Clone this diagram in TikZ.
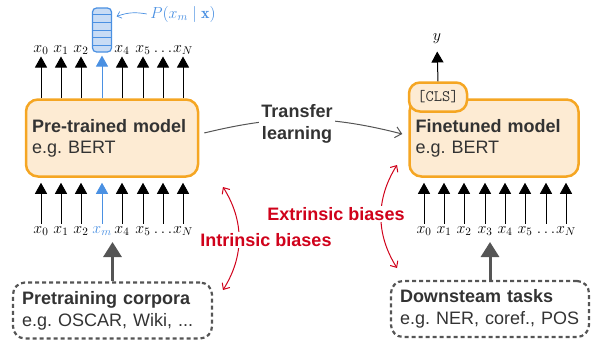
\documentclass[tikz,border=0pt]{standalone}
\usepackage{fix-cm}
\usepackage{fontspec}
\setsansfont{Liberation Sans}
\usetikzlibrary{arrows.meta,calc,positioning}
\AtBeginDocument{\frenchspacing}

\definecolor{modelorange}{HTML}{F5A623}
\definecolor{modelfill}{HTML}{FDEBD3}
\definecolor{maskblue}{HTML}{4A90E2}
\definecolor{maskfill}{HTML}{C8DCF5}
\definecolor{biasred}{HTML}{D0021B}
\definecolor{inkgray}{HTML}{333333}
\definecolor{dashgray}{HTML}{555555}

\tikzset{
    model/.style={draw=modelorange, fill=modelfill, line width=2.5pt, rounded corners=12pt,
        minimum height=77pt, inner xsep=6pt, align=left, text=inkgray},
    clstag/.style={draw=modelorange, fill=modelfill, line width=2.5pt, rounded corners=11pt,
        minimum width=58pt, minimum height=29pt, inner sep=0pt, text=inkgray,
        font=\ttfamily\fontsize{16}{18}\selectfont},
    source/.style={draw=dashgray, line width=2.2pt, dash pattern=on 4pt off 3pt, rounded corners=12pt,
        minimum height=56pt, inner xsep=9pt, align=left, text=inkgray,
        font=\sffamily\fontsize{18}{22}\selectfont},
    tok/.style={font=\fontsize{16}{18}\selectfont, anchor=base, text height=9pt, text depth=4pt, inner sep=0pt},
    stack/.style={draw=maskblue, fill=maskfill, line width=1.2pt, rounded corners=4pt,
        minimum width=19pt, minimum height=44pt, inner sep=0pt},
    feed/.style={dashgray, line width=3pt, arrows={-Triangle[length=15pt,width=18pt]}},
    transfer/.style={dashgray, line width=1pt, arrows={-Straight Barb[length=6pt,width=11pt]}},
    bias/.style={biasred, line width=1pt, arrows={Straight Barb[length=5pt,width=9pt]-Straight Barb[length=5pt,width=9pt]}},
    biaslabel/.style={text=biasred, font=\sffamily\bfseries\fontsize{18}{21}\selectfont, fill=white, inner sep=1pt},
}

\begin{document}
\begin{tikzpicture}[x=1pt, y=-1pt, font=\sffamily\fontsize{18}{21}\selectfont,
    >={Triangle[length=11pt,width=12pt]}]

    \useasboundingbox (0,0) rectangle (592,340);

    % pre-training side
    \node[model, text width=160pt] (ptm) at (112,138) {\textbf{Pre-trained model}\\e.g. BERT};
    \node[source, text width=181pt] (corp) at (112.5,310.5) {\textbf{Pretraining corpora}\\e.g. OSCAR, Wiki, ...};

    \node[stack] (stk) at (102,30) {};
    \foreach \k in {1,...,5}
        \draw[maskblue, line width=1pt] ($(stk.north west)!\k/6!(stk.south west)$) -- ($(stk.north east)!\k/6!(stk.south east)$);
    \node[text=maskblue, font=\fontsize{16}{18}\selectfont] (pm) at (183,14) {$P(x_m\mid\mathbf{x})$};
    \draw[maskblue, line width=0.7pt, arrows={-Straight Barb[length=4pt,width=7pt]}]
        (pm.west) to[bend right=15] ([xshift=4.5pt,yshift=-9pt]stk.north east);

    \begin{scope}[line width=1pt]
        \foreach \x/\t [count=\i] in {41/x_0,61/x_1,81/x_2,122/x_4,143/x_5,163/\ldots,183/x_N} {
            \node[tok] (pt\i) at (\x,52) {$\t$};
            \draw[->] (ptm.north -| pt\i) -- (pt\i.south);
        }
        \draw[->, maskblue, shorten >=3pt] (ptm.north -| stk) -- (stk.south);

        \foreach \x/\t [count=\i] in {41/x_0,61/x_1,81/x_2,122/x_4,143/x_5,163/\ldots,183/x_N} {
            \node[tok] (pb\i) at (\x,233) {$\t$};
            \draw[->, shorten >=5pt] (pb\i.north) -- (ptm.south -| pb\i);
        }
        \node[tok, text=maskblue] (pbm) at (102,233) {$x_m$};
        \draw[->, maskblue, shorten >=5pt] (pbm.north) -- (ptm.south -| pbm);
    \end{scope}

    \coordinate (pfeed) at (112,242);
    \draw[feed] (corp.north) -- (corp.north |- pfeed);

    % fine-tuning side
    \node[model, text width=157pt] (ftm) at (494,138) {\textbf{Finetuned model}\\e.g. BERT};
    \node[clstag] (cls) at (438,97) {[CLS]};
    \node[source, text width=180pt] (task) at (490,309) {\textbf{Downsteam tasks}\\e.g. NER, coref., POS};

    \begin{scope}[line width=1pt]
        \node[tok] (yout) at (437,40) {$y$};
        \draw[->, shorten >=7pt] (cls.north) -- (yout.south);

        \foreach \x/\t [count=\i] in {424/x_0,444/x_1,464/x_2,485/x_3,505/x_4,525/x_5,546/\ldots,566/x_N} {
            \node[tok] (fb\i) at (\x,233) {$\t$};
            \draw[->, shorten >=5pt] (fb\i.north) -- (ftm.south -| fb\i);
        }
    \end{scope}

    \coordinate (ffeed) at (490,242);
    \draw[feed] (task.north) -- (task.north |- ffeed);

    % transfer and biases
    \draw[transfer] ([xshift=5pt,yshift=5pt]ptm.east) to[bend left=14] ([xshift=-6pt,yshift=4pt]ftm.west);
    \node[fill=white, align=center, inner sep=2pt, text=inkgray, font=\sffamily\bfseries\fontsize{18}{22}\selectfont]
        (tl) at (297,124) {Transfer\\learning};

    \coordinate (ibtop) at (223,187);
    \coordinate (ibbot) at (223,290);
    \coordinate (ebtop) at (397,165);
    \coordinate (ebbot) at (397,268);
    \draw[bias] (ibtop) to[bend left=32] (ibbot);
    \draw[bias] (ebtop) to[bend right=32] (ebbot);
    \node[biaslabel] (ib) at (266,240) {Intrinsic biases};
    \node[biaslabel] (eb) at (336,214) {Extrinsic biases};

\end{tikzpicture}
\end{document}
